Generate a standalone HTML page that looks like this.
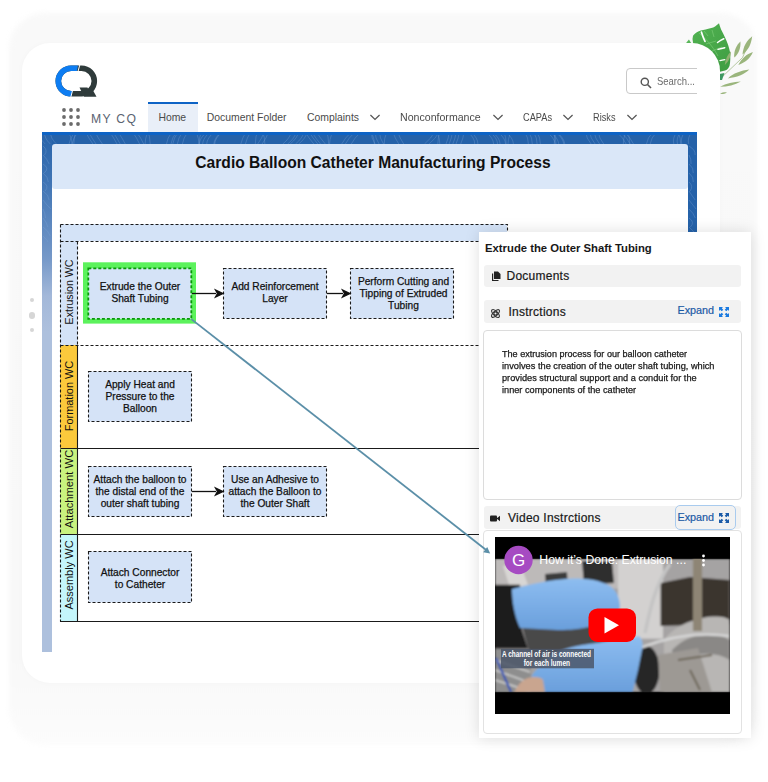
<!DOCTYPE html>
<html><head><meta charset="utf-8">
<style>
*{box-sizing:border-box;margin:0;padding:0}
html,body{width:768px;height:782px;overflow:hidden;background:#fff;font-family:"Liberation Sans",sans-serif;color:#222}
.abs{position:absolute}
#shadowbg{position:absolute;left:9px;top:13px;width:748px;height:732px;border-radius:36px;background:linear-gradient(180deg,#f9f9f9 0%,#f8f8f8 88%,#fcfcfc 100%);filter:blur(2.5px)}
#card{position:absolute;left:22px;top:43px;width:698px;height:640px;border-radius:28px;background:#fff;box-shadow:0 0 6px rgba(0,0,0,0.025)}
.nav{position:absolute;top:111.5px;font-size:10.4px;line-height:12px;color:#4a4a4a;white-space:nowrap;transform-origin:0 0}
.chev{position:absolute;top:114.3px;width:10px;height:7px}
#frame{position:absolute;left:42px;top:132px;width:655px;height:520px;background:#2562a9}
#lstrip{position:absolute;left:42px;top:132px;width:10px;height:520px;background:linear-gradient(180deg,#2763aa 0px,#3f74b4 49px,#7598c8 126px,#a3b8d9 164px,#adc0dd 200px,#adc0dd 521px)}
#frametop{position:absolute;left:42px;top:132px;width:655px;height:3px;background:#0d63c5}
#panel{position:absolute;left:52px;top:150px;width:636px;height:533px;background:#fff}
#title{position:absolute;left:52px;top:144px;width:636px;height:45px;background:#dae7f8;border-radius:3px;font-weight:bold;font-size:15.6px;color:#111;text-align:center;line-height:38.5px;padding-left:6px}
.box{position:absolute;width:104px;height:51px;background:#d5e3f7;border:1.3px dashed #222;font-size:10.2px;color:#111;text-align:center;display:flex;align-items:center;justify-content:center;line-height:12px}
.bt{position:absolute;width:104px;height:51px;margin-top:-1px;font-size:10.2px;color:#111;text-align:center;display:flex;align-items:center;justify-content:center;line-height:11.85px;-webkit-text-stroke:0.25px #111}
.row{left:484px;width:257px;background:#f2f2f2;border-radius:3px}
.ptx{font-size:12px;letter-spacing:0.25px;color:#181818;-webkit-text-stroke:0.2px #181818;white-space:nowrap}
.exp{font-size:10.8px;color:#1b5aa6;white-space:nowrap;-webkit-text-stroke:0.2px #1b5aa6}
.para{left:502px;font-size:9px;line-height:11.9px;color:#1a1a1a;-webkit-text-stroke:0.25px #1a1a1a;white-space:nowrap;transform-origin:0 0}
.lane{position:absolute;left:60px;width:447px}
.lbl{position:absolute;left:60px;width:17.5px;font-size:10.6px;color:#111}
.lbl span{position:absolute;left:50%;top:50%;transform:translate(-50%,-50%) rotate(-90deg);white-space:nowrap}
</style></head><body>
<div id="shadowbg"></div>
<svg class="abs" style="left:0;top:0" width="768" height="120" viewBox="0 0 768 120">
  <defs><linearGradient id="lg1" x1="0" y1="0" x2="1" y2="1"><stop offset="0" stop-color="#52b352"/><stop offset="1" stop-color="#3e9d42"/></linearGradient></defs>
  <path d="M719 23.2 C716 26 714 27.5 711.3 27.9 C707 29 704 29.6 700.8 30.5 C697 31.8 694.5 33.5 693 35.7 L692.5 39 L693.5 46 L705 52 L714 58 L718 66 L719 72 L723 71 C726 70.5 728 69.5 729.5 66 C730.5 62 730.5 56 730 52 C729 47 727.5 43 725.5 38.5 C724 35 722.5 32 721.1 29.5 C720.2 27 719.6 25 719 23.2 Z" fill="url(#lg1)"/>
  <path d="M685.7 43.5 L688.9 39.4 L691.5 43.5 Z" fill="#5ab85a"/>
  <path d="M699 33 C705 38 712 45 718 56 M704 31 L708 36 M712 30 L714 37 M706 44 L716 41 M712 51 L722 47" stroke="#7ccc78" stroke-width="0.8" fill="none" opacity="0.8"/>
  <path d="M701.4 32 C702.5 35.5 703.5 38.5 705 41.4" stroke="#fff" stroke-width="1.7" fill="none" stroke-linecap="round"/>
  <path d="M717.5 42.5 C719.5 41 721.5 39.8 723.8 38.8" stroke="#fff" stroke-width="1.5" fill="none" stroke-linecap="round"/>
  <path d="M718 49.3 C720.5 48.6 722.5 48.1 724.8 47.7" stroke="#fff" stroke-width="1.4" fill="none" stroke-linecap="round"/>
  <path d="M720 60.7 C721.5 60.3 723 60 724.8 59.7" stroke="#fff" stroke-width="1.3" fill="none" stroke-linecap="round"/>
  <g fill="#9ab57c">
    <path d="M720.6 78.4 L742.5 57.6 L751.9 36.7" stroke="#9ab57c" stroke-width="0.7" fill="none"/>
    <path d="M734.2 57.6 C733.6 51 736.5 45 740.4 41.4 C741 48 738.5 54 734.2 57.6 Z"/>
    <path d="M742.5 54.5 C743 47 746.5 40.5 751.9 36.7 C751.5 44 748 50.5 742.5 54.5 Z"/>
    <path d="M738.3 64.9 C741.5 58.5 746.5 54 752.9 51.9 C750.5 58 745 62.5 738.3 64.9 Z"/>
    <path d="M727.9 78.4 C733 73.5 741 70.5 749.3 69.6 C744.5 74.5 736.5 77.5 727.9 78.4 Z"/>
    <path d="M720.1 86.8 C726 83.5 733.5 81.6 740.9 81.5 C735 85 727.5 86.8 720.1 86.8 Z"/>
    <path d="M720 93.8 C722.5 92.3 724.8 92 726.9 92.4 C724.8 93.7 722.5 94.1 720 93.8 Z"/>
    <path d="M724.8 64.9 C725.2 59.5 727.5 54.5 731 51.3 C730.8 57 728.5 61.8 724.8 64.9 Z" fill="#8fb070"/>
  </g>
  <path d="M719.5 74 L724.5 73 L722 80 L719.5 80 Z" fill="#3f9a62"/>
</svg>
<div id="card"></div>

<!-- left dots -->
<div class="abs" style="left:30px;top:298.3px;width:4.2px;height:4.2px;border-radius:50%;background:#d6d6d6"></div>
<div class="abs" style="left:28.8px;top:312px;width:6.7px;height:6.7px;border-radius:50%;background:#d6d6d6"></div>
<div class="abs" style="left:30px;top:327.8px;width:4.2px;height:4.2px;border-radius:50%;background:#d6d6d6"></div>
<!-- logo -->
<svg class="abs" style="left:0;top:0" width="110" height="110" viewBox="0 0 110 110">
  <defs><clipPath id="cb"><polygon points="40,55 79.6,55 76.9,72 72.5,90 70,105 40,105"/></clipPath></defs>
  <rect x="58.3" y="68.2" width="36" height="25.6" rx="12.8" fill="none" stroke="#2f3b3b" stroke-width="5.6"/>
  <path d="M86 91 L92.5 89.5 L96.5 96.8 L84 96.8 Z" fill="#2f3b3b"/>
  <path d="M79.5 87.4 L87.5 87.4 L89.5 92.3 L81.8 92.3 Z" fill="#2f3b3b"/>
  <rect x="58.3" y="68.2" width="36" height="25.6" rx="12.8" fill="none" stroke="#0d7df2" stroke-width="5.6" clip-path="url(#cb)"/>
  <path d="M80.3 63 L77.6 73" stroke="#fff" stroke-width="1"/>
  <path d="M72.8 89.5 L70.3 99" stroke="#fff" stroke-width="1"/>
</svg>

<!-- grid icon -->
<svg class="abs" style="left:62px;top:108px" width="18" height="18" viewBox="0 0 18 18" fill="#6b6b6b">
  <circle cx="2" cy="2" r="1.9"/><circle cx="9" cy="2" r="1.9"/><circle cx="16" cy="2" r="1.9"/>
  <circle cx="2" cy="9" r="1.9"/><circle cx="9" cy="9" r="1.9"/><circle cx="16" cy="9" r="1.9"/>
  <circle cx="2" cy="16" r="1.9"/><circle cx="9" cy="16" r="1.9"/><circle cx="16" cy="16" r="1.9"/>
</svg>
<div class="abs" style="left:91px;top:111.5px;font-size:12.2px;line-height:14px;color:#5b6472;letter-spacing:1.3px">MY CQ</div>

<!-- search -->
<div class="abs" style="left:600px;top:60px;width:97px;height:40px;overflow:hidden"><div class="abs" style="left:26px;top:8px;width:90px;height:26px;border:1px solid #c9c9c9;border-radius:4px;background:#fff"></div></div>
<svg class="abs" style="left:640px;top:77px" width="12" height="12" viewBox="0 0 12 12"><circle cx="4.8" cy="4.8" r="3.6" fill="none" stroke="#555" stroke-width="1.4"/><path d="M7.5 7.5 L11 11" stroke="#555" stroke-width="1.6"/></svg>
<div class="abs" style="left:657px;top:75.6px;font-size:10.3px;line-height:12px;color:#6b6b6b;transform:scaleX(0.92);transform-origin:0 0;white-space:nowrap">Search...</div>

<!-- nav -->
<div class="abs" style="left:148px;top:102px;width:50px;height:30px;background:#e9eff8"></div>
<div class="abs" style="left:148px;top:101.8px;width:50px;height:2.2px;background:#0d63c5"></div>
<div class="nav" style="left:158.4px;transform:scaleX(1.0)">Home</div>
<div class="nav" style="left:206.8px;transform:scaleX(1.0)">Document Folder</div>
<div class="nav" style="left:307.0px;transform:scaleX(1.0)">Complaints</div>
<div class="nav" style="left:400.4px;transform:scaleX(1.02)">Nonconformance</div>
<div class="nav" style="left:522.5px;transform:scaleX(0.887)">CAPAs</div>
<div class="nav" style="left:593.1px;transform:scaleX(0.886)">Risks</div>
<svg class="chev" style="left:370.2px" viewBox="0 0 10 7"><path d="M0.4 1 L5 5.4 L9.6 1" fill="none" stroke="#555" stroke-width="1.3"/></svg>
<svg class="chev" style="left:492.6px" viewBox="0 0 10 7"><path d="M0.4 1 L5 5.4 L9.6 1" fill="none" stroke="#555" stroke-width="1.3"/></svg>
<svg class="chev" style="left:563.3px" viewBox="0 0 10 7"><path d="M0.4 1 L5 5.4 L9.6 1" fill="none" stroke="#555" stroke-width="1.3"/></svg>
<svg class="chev" style="left:626.7px" viewBox="0 0 10 7"><path d="M0.4 1 L5 5.4 L9.6 1" fill="none" stroke="#555" stroke-width="1.3"/></svg>

<!-- blue frame -->
<div id="frame"></div>
<div id="lstrip"></div>
<svg class="abs" style="left:42px;top:132px" width="655" height="110" viewBox="0 0 655 110" fill="none" stroke="#7ea6d8" stroke-opacity="0.45" stroke-width="0.7"><path d="M0.0 12 Q-6.5 6 -5.7 0 M3.2 12 Q-3.3 6 -2.5 0 M8.3 12 Q1.9 6 2.6 0 M14.5 12 Q8.0 6 8.7 0 M27.0 12 Q27.9 6 32.9 0 M30.1 12 Q31.0 6 36.0 0 M50.9 12 Q46.5 6 43.7 0 M54.0 12 Q49.6 6 46.8 0 M60.4 12 Q55.9 6 53.1 0 M75.0 12 Q71.9 6 67.8 0 M78.2 12 Q75.1 6 71.0 0 M83.3 12 Q80.1 6 76.1 0 M97.6 12 Q95.0 6 90.5 0 M101.7 12 Q99.1 6 94.5 0 M124.5 12 Q125.2 6 129.9 0 M129.0 12 Q129.8 6 134.5 0 M130.8 12 Q131.5 6 136.3 0 M135.3 12 Q136.0 6 140.7 0 M140.4 12 Q141.2 6 145.9 0 M157.3 12 Q157.6 6 164.8 0 M160.6 12 Q161.0 6 168.1 0 M164.7 12 Q165.0 6 172.2 0 M171.9 12 Q172.2 6 179.4 0 M172.7 12 Q173.0 6 180.2 0 M198.8 12 Q200.2 6 204.0 0 M203.4 12 Q204.8 6 208.6 0 M215.7 12 Q220.2 6 222.1 0 M220.1 12 Q224.6 6 226.5 0 M240.8 12 Q248.1 6 249.2 0 M245.7 12 Q253.0 6 254.1 0 M248.2 12 Q255.5 6 256.6 0 M253.5 12 Q260.8 6 261.9 0 M256.7 12 Q264.0 6 265.2 0 M271.8 12 Q266.7 6 263.2 0 M275.8 12 Q270.7 6 267.2 0 M278.5 12 Q273.4 6 269.9 0 M283.3 12 Q278.1 6 274.6 0 M299.7 12 Q302.8 6 309.4 0 M303.4 12 Q306.5 6 313.1 0 M309.3 12 Q312.3 6 318.9 0 M333.1 12 Q329.1 6 329.3 0 M337.1 12 Q333.0 6 333.2 0 M341.5 12 Q337.4 6 337.6 0 M356.8 12 Q352.8 6 350.9 0 M361.7 12 Q357.7 6 355.8 0 M382.5 12 Q389.7 6 392.4 0 M387.1 12 Q394.3 6 397.0 0 M404.0 12 Q406.7 6 407.2 0 M407.1 12 Q409.8 6 410.4 0 M410.8 12 Q413.5 6 414.1 0 M414.0 12 Q416.7 6 417.2 0 M418.7 12 Q421.4 6 422.0 0 M432.7 12 Q432.9 6 425.8 0 M435.9 12 Q436.0 6 428.9 0 M451.6 12 Q451.4 6 443.9 0 M455.6 12 Q455.4 6 447.8 0 M458.1 12 Q457.9 6 450.4 0 M463.6 12 Q463.3 6 455.8 0 M471.4 12 Q471.2 6 463.7 0 M486.4 12 Q486.5 6 482.7 0 M490.3 12 Q490.5 6 486.7 0 M495.1 12 Q495.3 6 491.5 0 M498.4 12 Q498.6 6 494.8 0 M513.2 12 Q512.4 6 505.0 0 M516.8 12 Q516.0 6 508.6 0 M521.8 12 Q521.0 6 513.6 0 M522.8 12 Q522.0 6 514.6 0 M549.1 12 Q544.1 6 543.7 0 M553.1 12 Q548.2 6 547.7 0 M557.6 12 Q552.7 6 552.2 0 M561.7 12 Q556.8 6 556.4 0 M584.1 12 Q581.4 6 574.8 0 M588.1 12 Q585.4 6 578.9 0 M591.5 12 Q588.8 6 582.2 0 M604.5 12 Q605.2 6 610.9 0 M608.2 12 Q608.9 6 614.6 0 M631.8 12 Q630.2 6 634.9 0 M635.5 12 Q633.9 6 638.6 0 M639.8 12 Q638.1 6 642.8 0 M646.7 12 Q645.1 6 649.8 0 M-10.0 12 A20.0 20.0 0 0 1 30.0 12 M31.8 12 A38.2 38.2 0 0 1 108.2 12 M103.1 12 A26.9 26.9 0 0 1 156.9 12 M157.1 12 A32.9 32.9 0 0 1 222.9 12 M213.3 12 A36.7 36.7 0 0 1 286.7 12 M287.6 12 A22.4 22.4 0 0 1 332.4 12 M342.2 12 A27.8 27.8 0 0 1 397.8 12 M395.8 12 A34.2 34.2 0 0 1 464.2 12 M466.0 12 A24.0 24.0 0 0 1 514.0 12 M512.2 12 A37.8 37.8 0 0 1 587.8 12 M581.3 12 A28.7 28.7 0 0 1 638.7 12 M1 14 Q6.2 18 2.6 23 M647 14 Q653.7 18 653.1 23 M1 23 Q5.3 27 7.2 32 M647 23 Q649.4 27 649.1 32 M1 32 Q8.0 36 2.2 41 M647 32 Q652.0 36 651.3 41 M1 41 Q6.3 45 6.3 50 M647 41 Q652.0 45 651.3 50 M1 50 Q7.7 54 3.1 59 M647 50 Q651.7 54 648.1 59 M1 59 Q7.0 63 7.1 68 M647 59 Q649.5 63 653.2 68 M1 68 Q3.7 72 8.9 77 M647 68 Q650.0 72 654.1 77 M1 77 Q3.1 81 3.5 86 M647 77 Q651.5 81 653.3 86 M1 86 Q4.6 90 5.8 95 M647 86 Q653.2 90 648.4 95 M1 95 Q6.7 99 8.3 104 M647 95 Q652.3 99 653.7 104 M1 104 Q5.6 108 7.8 113 M647 104 Q653.4 108 648.9 113"/></svg>
<div id="frametop"></div>
<div id="panel"></div>
<div id="title">Cardio Balloon Catheter Manufacturing Process</div>


<!-- pool -->
<svg class="abs" style="left:0;top:0" width="768" height="782">
  <g shape-rendering="crispEdges">
  <rect x="60" y="224" width="447" height="17" fill="#d4e3f7"/>
  <rect x="60" y="241" width="17.5" height="104" fill="#d4e3f7"/>
  <rect x="60" y="345" width="17.5" height="103" fill="#fbc93c"/>
  <rect x="60" y="448" width="17.5" height="86" fill="#c9f27f"/>
  <rect x="60" y="534" width="17.5" height="87" fill="#c4f6fb"/>
  </g>
  <g fill="none" stroke="#1a1a1a" stroke-width="1.1">
    <path d="M60.5 224.5 H507.5 V621" stroke-dasharray="3 2"/>
    <path d="M60.5 224.5 V621.5" stroke-dasharray="3 2"/><path d="M60 621.5 H507.5"/>
    <path d="M60.5 241.5 H507.5" stroke-dasharray="3 2"/>
    <path d="M77.5 241.5 V345" stroke-dasharray="3 2"/>
    <path d="M60.5 345.5 H507.5" stroke-dasharray="3 2"/>
    <path d="M77.5 345 V621"/>
    <path d="M60.5 448.5 H507.5"/>
    <path d="M60.5 534.5 H507.5"/>
  </g>
  <!-- green halo -->
  <rect x="83" y="262.3" width="113" height="61.3" fill="#5cf25c"/>
  <g fill="#d5e3f7" stroke="#1a1a1a" stroke-width="1.1" stroke-dasharray="3 2">
    <rect x="88.3" y="268.3" width="103" height="50.6" stroke="#0a9a0a" stroke-width="1.8"/>
    <rect x="223.5" y="268.5" width="103" height="50"/>
    <rect x="350.5" y="268.5" width="103" height="50"/>
    <rect x="88.5" y="371.5" width="103" height="50"/>
    <rect x="88.5" y="466.5" width="103" height="50"/>
    <rect x="223.5" y="466.5" width="103" height="50"/>
    <rect x="88.5" y="551.5" width="103" height="51"/>
  </g>
  <g stroke="#111" stroke-width="1.3" fill="#111">
    <path d="M192 293.5 H216"/><path d="M223 293.5 L215.5 290 L217.5 293.5 L215.5 297 Z"/>
    <path d="M327 293.5 H343"/><path d="M350 293.5 L342.5 290 L344.5 293.5 L342.5 297 Z"/>
    <path d="M192 491.5 H216"/><path d="M223 491.5 L215.5 488 L217.5 491.5 L215.5 495 Z"/>
  </g>
</svg>
<div class="lbl" style="top:241px;height:104px"><span style="margin-top:-0.6px;transform:translate(-50%,-50%) rotate(-90deg) scaleX(1.0)">Extrusion WC</span></div>
<div class="lbl" style="top:345px;height:103px"><span style="margin-top:-0.6px;transform:translate(-50%,-50%) rotate(-90deg) scaleX(1.03)">Formation WC</span></div>
<div class="lbl" style="top:448px;height:86px"><span style="margin-top:-2px;transform:translate(-50%,-50%) rotate(-90deg) scaleX(1.06)">Attachment WC</span></div>
<div class="lbl" style="top:534px;height:87px"><span style="margin-top:-2.7px;transform:translate(-50%,-50%) rotate(-90deg) scaleX(1.04)">Assembly WC</span></div>
<div class="bt" style="left:88px;top:268px">Extrude the Outer<br>Shaft Tubing</div>
<div class="bt" style="left:223px;top:268px">Add Reinforcement<br>Layer</div>
<div class="bt" style="left:351.5px;top:269.5px">Perform Cutting and<br>Tipping of Extruded<br>Tubing</div>
<div class="bt" style="left:88px;top:372.5px">Apply Heat and<br>Pressure to the<br>Balloon</div>
<div class="bt" style="left:88px;top:467.5px">Attach the balloon to<br>the distal end of the<br>outer shaft tubing</div>
<div class="bt" style="left:223px;top:467.5px">Use an Adhesive to<br>attach the Balloon to<br>the Outer Shaft</div>
<div class="bt" style="left:88px;top:553px;height:53px">Attach Connector<br>to Catheter</div>

<!-- popup -->
<div class="abs" style="left:479px;top:232px;width:272px;height:506px;background:#fff;box-shadow:0 0 14px rgba(0,0,0,0.13)"></div>
<div class="abs" style="left:485px;top:242px;font-size:11.3px;font-weight:bold;color:#181818;white-space:nowrap">Extrude the Outer Shaft Tubing</div>
<div class="abs row" style="top:265px;height:22px"></div>
<svg class="abs" style="left:491px;top:271px" width="10" height="10" viewBox="0 0 10 10"><path d="M3 0.5 H7 L9.5 3 V8 H3 Z" fill="#222"/><path d="M1 2.5 H2.2 V9 H7.5 V10 H1 Z" fill="#222"/></svg>
<div class="abs ptx" style="left:506.5px;top:268.5px">Documents</div>
<div class="abs row" style="top:300px;height:22.5px"></div>
<svg class="abs" style="left:490px;top:308px" width="11" height="11" viewBox="0 0 11 11" fill="none" stroke="#333" stroke-width="1.1"><ellipse cx="5.5" cy="5.5" rx="5" ry="2.2" transform="rotate(45 5.5 5.5)"/><ellipse cx="5.5" cy="5.5" rx="5" ry="2.2" transform="rotate(-45 5.5 5.5)"/><circle cx="5.5" cy="5.5" r="1.6"/></svg>
<div class="abs ptx" style="left:508.5px;top:304.5px">Instrctions</div>
<div class="abs exp" style="left:677.5px;top:304px">Expand</div>
<svg class="abs" style="left:719px;top:307px" width="10" height="10" viewBox="0 0 10 10" fill="#1a7ae0"><path d="M0 0 H4 L2.8 1.2 L4.3 2.7 L2.7 4.3 L1.2 2.8 L0 4 Z"/><path d="M10 0 V4 L8.8 2.8 L7.3 4.3 L5.7 2.7 L7.2 1.2 L6 0 Z"/><path d="M0 10 V6 L1.2 7.2 L2.7 5.7 L4.3 7.3 L2.8 8.8 L4 10 Z"/><path d="M10 10 H6 L7.2 8.8 L5.7 7.3 L7.3 5.7 L8.8 7.2 L10 6 Z"/></svg>
<div class="abs" style="left:483px;top:330px;width:258.5px;height:169.5px;border:1px solid #dcdcdc;border-radius:4px"></div>
<div class="abs para" style="top:349.4px;transform:scaleX(1.008)">The extrusion process for our balloon catheter</div><div class="abs para" style="top:361.3px;transform:scaleX(1.026)">involves the creation of the outer shaft tubing, which</div><div class="abs para" style="top:373.2px;transform:scaleX(1.021)">provides structural support and a conduit for the</div><div class="abs para" style="top:385.1px;transform:scaleX(1.019)">inner components of the catheter</div>
<div class="abs row" style="top:506px;height:23px"></div>
<svg class="abs" style="left:490px;top:515px" width="10" height="7" viewBox="0 0 10 7" fill="#222"><rect x="0" y="0.5" width="7" height="6" rx="1"/><path d="M6.5 3.5 L10 0.8 V6.2 Z"/></svg>
<div class="abs ptx" style="left:508px;top:510.5px">Video Instrctions</div>
<div class="abs" style="left:675px;top:505px;width:61px;height:25px;border:1px solid #a9cbee;border-radius:5px"></div>
<div class="abs exp" style="left:677.5px;top:510.5px">Expand</div>
<svg class="abs" style="left:719px;top:512.5px" width="10" height="10" viewBox="0 0 10 10" fill="#1a5aa8"><path d="M0 0 H4 L2.8 1.2 L4.3 2.7 L2.7 4.3 L1.2 2.8 L0 4 Z"/><path d="M10 0 V4 L8.8 2.8 L7.3 4.3 L5.7 2.7 L7.2 1.2 L6 0 Z"/><path d="M0 10 V6 L1.2 7.2 L2.7 5.7 L4.3 7.3 L2.8 8.8 L4 10 Z"/><path d="M10 10 H6 L7.2 8.8 L5.7 7.3 L7.3 5.7 L8.8 7.2 L10 6 Z"/></svg>
<div class="abs" style="left:483px;top:530px;width:258.5px;height:204px;border:1px solid #e2e2e2;border-radius:4px"></div>
<!-- video -->
<svg class="abs" style="left:495px;top:537px" width="234.5" height="177" viewBox="495 537 234.5 177">
  <defs>
    <filter id="bl" x="-10%" y="-10%" width="120%" height="120%"><feGaussianBlur stdDeviation="1.2"/></filter>
    <clipPath id="vclip"><rect x="495" y="558.7" width="235" height="133.5"/></clipPath>
    <linearGradient id="glv" x1="0" y1="0" x2="0" y2="1"><stop offset="0" stop-color="#8dbdf0"/><stop offset="1" stop-color="#6a9fdc"/></linearGradient>
    <linearGradient id="met" x1="0" y1="0" x2="1" y2="1"><stop offset="0" stop-color="#c8c8c8"/><stop offset="0.5" stop-color="#8a8a8a"/><stop offset="1" stop-color="#b0b0b0"/></linearGradient>
  </defs>
  <rect x="495" y="537" width="235" height="177" fill="#000"/>
  <g clip-path="url(#vclip)"><g filter="url(#bl)">
    <rect x="495" y="558.7" width="235" height="133.5" fill="#a5a3a3"/>
    <rect x="495" y="558.7" width="125" height="30" fill="#bdbab9"/>
    <rect x="618" y="558.7" width="45" height="80" fill="#d3d1d0"/>
    <path d="M582 561 L612 561 L614 583 L584 585 Z" fill="#2f2f2f"/>
    <path d="M545 574 L567 572 L568 587 L546 588 Z" fill="#3a3a3a"/>
    <path d="M503 566 L520 563 L528 585 L510 588 Z" fill="#d8d6d4"/>
    <path d="M495 584.7 L520 584.7 L522 630 L528 648.7 L495 648.7 Z" fill="#1d1d1d"/>
    <rect x="495" y="648.7" width="36" height="44" fill="#8e8e8e"/>
    <path d="M495 660 L530 672 M495 670 L528 682 M495 680 L526 690" stroke="#d0d0d0" stroke-width="1.5"/>
    <path d="M660.6 583 L690 577 L729.5 580 L729.5 624 L660.6 626 Z" fill="#3b342f"/>
    <path d="M664 640 C680 618 720 612 729.5 620 L729.5 692.5 L664 692.5 Z" fill="#b8b6b4"/>
    <path d="M672 650 C690 632 715 630 729.5 640 L729.5 660 C715 650 690 652 675 665 Z" fill="#8a8886"/>
    <ellipse cx="646.5" cy="670" rx="13" ry="24" fill="#262626"/>
    <path d="M658 655 L698 648 L712 692.5 L660 692.5 Z" fill="#9d9994"/>
    <path d="M678 660 L712 655 M690 670 L700 690" stroke="#6d6658" stroke-width="2"/>
    <rect x="693" y="555" width="9" height="76" fill="#8e8575"/>
    <path d="M645 633 C650 610 655 585 670 564" stroke="#c4c4c4" stroke-width="3.5" fill="none"/>
    <path d="M640 648 C670 636 700 632 729 636" stroke="#d5d5d5" stroke-width="2.5" fill="none"/>
    <path d="M522 626 L600 625 L626 636 L592 645 L557 652 L536 662 L528 648 Z" fill="#4a4848"/>
    <path d="M512 589 C530 584 553 579 573 578.4 C588 578.5 600 580 610 586 C617 591 620 598 620 608 C615 618 605 625 589 627 C575 630 565 630 557.5 630 L520 628 C514 615 512 600 512 589 Z" fill="url(#glv)"/>
    <path d="M526 692.5 C528 683 531 676 535.6 670.6 C543 662 550 656 557.5 652 C570 647 580 645 589 644 C605 642 615 640 626 639 L639 636 C643 640 643 645 642 650 L638 670 L632.5 692.5 Z" fill="url(#glv)"/>
    <path d="M514 692.5 C518 685 522 679 530 677.5 C536 676.5 541 677 543 680 L545 692.5 Z" fill="#c9a58f"/>
    <path d="M496 658 L511 692" stroke="#2a4fb5" stroke-width="2"/>
  </g></g>
  <!-- caption -->
  <rect x="501" y="648.8" width="93" height="19.5" fill="#4b5668" fill-opacity="0.85"/>
  <text x="502" y="657" font-family="Liberation Sans" font-size="8.2" font-weight="bold" fill="#fff" textLength="89" lengthAdjust="spacingAndGlyphs">A channel of air is connected</text>
  <text x="523.7" y="666.3" font-family="Liberation Sans" font-size="8.2" font-weight="bold" fill="#fff" textLength="46.3" lengthAdjust="spacingAndGlyphs">for each lumen</text>
  <!-- top overlay -->
  <circle cx="518.5" cy="560" r="14.2" fill="#a64bc2"/>
  <text x="518.5" y="566" text-anchor="middle" font-family="Liberation Sans" font-size="17" fill="#fff">G</text>
  <text x="539.3" y="564.4" font-family="Liberation Sans" font-size="12.8" fill="#fff" textLength="147" lengthAdjust="spacingAndGlyphs">How it’s Done: Extrusion ...</text>
  <circle cx="703.5" cy="556" r="1.4" fill="#fff"/><circle cx="703.5" cy="560.5" r="1.4" fill="#fff"/><circle cx="703.5" cy="565" r="1.4" fill="#fff"/>
  <!-- play button -->
  <rect x="588.5" y="608.4" width="47.5" height="33.6" rx="9" fill="#ff0000"/>
  <path d="M604.5 617 L604.5 633.5 L619 625.2 Z" fill="#fff"/>
</svg>

<svg class="abs" style="left:0;top:0" width="768" height="782" viewBox="0 0 768 782">
  <path d="M191.3 319.1 L486.5 550.2" stroke="#5b8fa8" stroke-width="1.8" fill="none"/>
  <path d="M490.2 553.5 L483.2 552.2 L487.2 546.9 Z" fill="#5b8fa8"/>
</svg>
</body></html>
